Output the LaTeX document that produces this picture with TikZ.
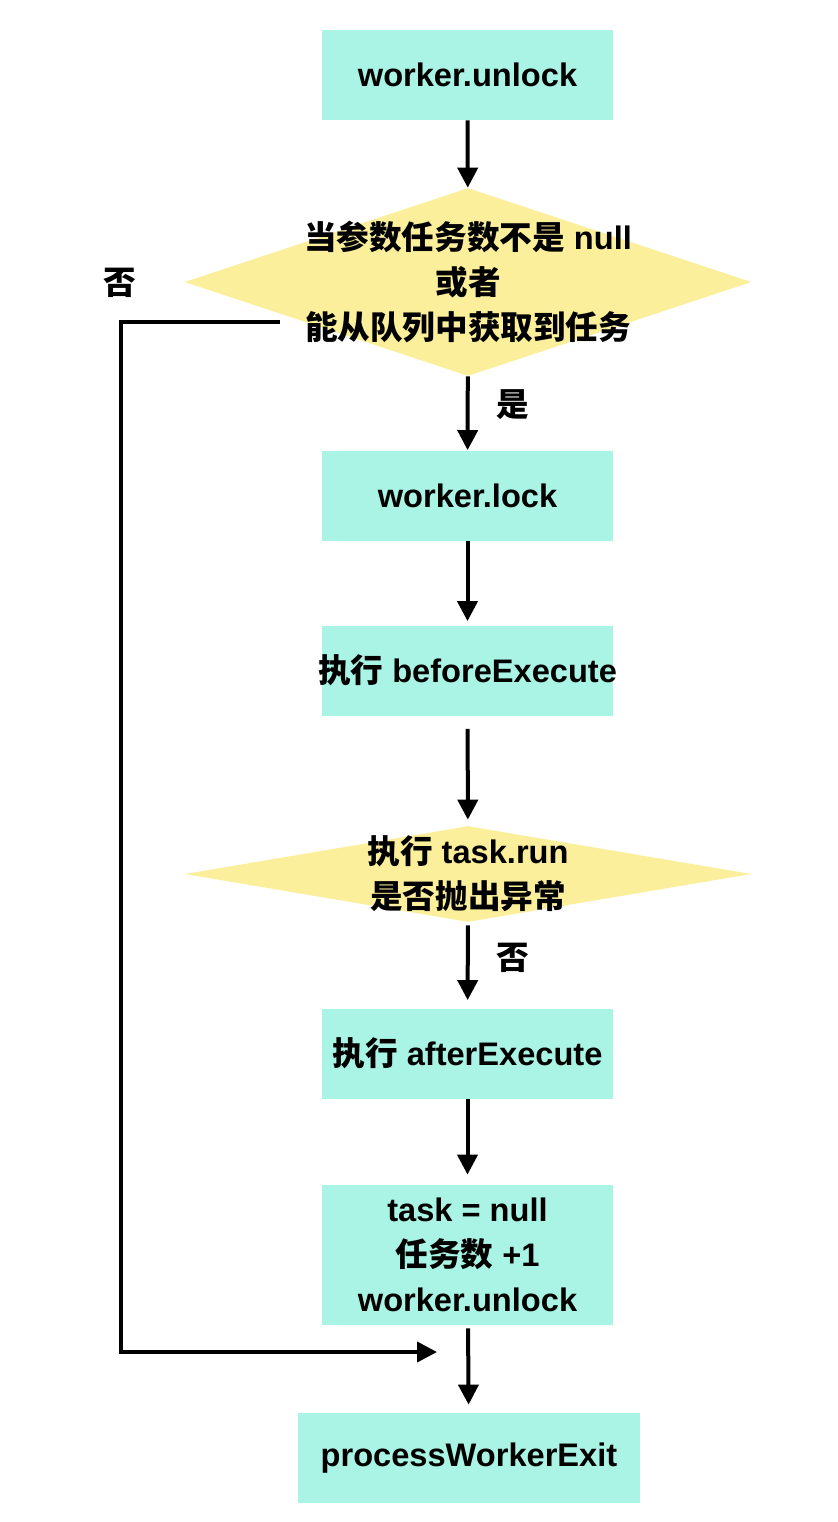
\documentclass[tikz,border=0pt]{standalone}
\usepackage{fontspec}
\setmainfont{Liberation Sans}
\newfontfamily\cjk{Noto Sans CJK SC}
\usetikzlibrary{shapes.geometric}
\usetikzlibrary{arrows.meta}

\definecolor{boxfill}{HTML}{A9F4E4}
\definecolor{decfill}{HTML}{FBEF9B}

\begin{document}
\begin{tikzpicture}[x=0.5pt,y=-0.5pt,
    every node/.style={font=\fontsize{16.3}{22.5}\selectfont\bfseries},
    proc/.style={fill=boxfill,minimum width=145.5pt,minimum height=45pt,align=center,inner sep=0pt},
    decision/.style={diamond,fill=decfill,minimum width=283.5pt,minimum height=94pt,inner sep=0pt},
    arr/.style={-{Triangle[length=10pt,width=10pt]},line width=2pt}]
      \useasboundingbox (0,0) rectangle (838,1522);
      \node[proc] (unlock) at (467.5,75) {worker.unlock};
      \node[decision] (hasTask) at (468,282) {};
      \node[align=center] (hasTaskTxt) at (hasTask) {{\cjk 当参数任务数不是} null\\{\cjk 或者}\\{\cjk 能从队列中获取到任务}};
      \node[proc] (lock) at (467.5,495.5) {worker.lock};
      \node[proc] (before) at (467.5,670.5) {\makebox[0pt]{{\cjk 执行} beforeExecute}};
      \node[decision,minimum height=48pt] (run) at (468,874) {};
      \node[align=center] (runTxt) at (run) {{\cjk 执行} task.run\\{\cjk 是否抛出异常}};
      \node[proc] (after) at (467.5,1053.5) {{\cjk 执行} afterExecute};
      \node[proc,minimum height=70pt] (reset) at (467.5,1255) {task = null\\{\cjk 任务数} +1\\worker.unlock};
      \node[proc,minimum width=171pt] (exit) at (469,1458) {processWorkerExit};
      %
      \node (yes) at (513,405) {\cjk 是};
      \node (noRun) at (513,958) {\cjk 否};
      \node (noTask) at (120,283) {\cjk 否};
      %
      \draw[arr] (unlock) -- (hasTask);
      \draw[arr] (hasTask) -- (lock);
      \draw[arr,shorten >=2pt] (lock) -- (before);
      \draw[arr,shorten <=6.5pt,shorten >=3pt] (before) -- (run);
      \draw[arr,shorten <=1.5pt,shorten >=4pt] (run) -- (after);
      \draw[arr,shorten >=5pt] (after) -- (reset);
      \draw[arr,shorten <=1.5pt,shorten >=4pt] (reset) -- (exit);
      %
      \coordinate (loopStart) at (280,322);
      \coordinate (loopLeft) at (121,1352);
      \coordinate (loopEnd) at (437,1352);
      \draw[arr] (loopStart) -| (loopLeft) -- (loopEnd);
\end{tikzpicture}
\end{document}
